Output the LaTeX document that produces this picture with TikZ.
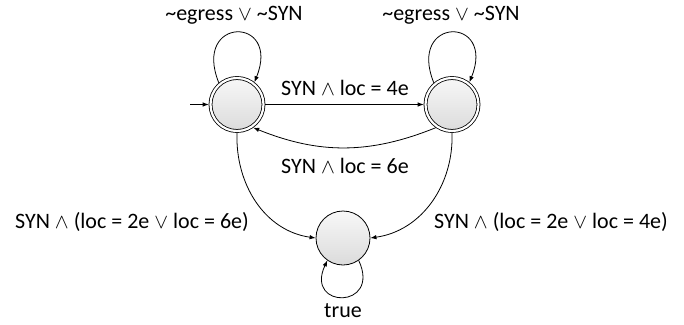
\documentclass[tikz,border=0pt]{standalone}
\usepackage{fontspec}
\setmainfont{Carlito}
\usetikzlibrary{arrows.meta}
\begin{document}
\begin{tikzpicture}[x=1pt,y=-1pt,
  every node/.style={font=\fontsize{22}{26}\selectfont},
  acc/.style={circle,draw,line width=0.8pt,double,double distance=2.2pt,minimum size=53pt,inner sep=0pt,outer sep=1.8pt,top color=gray!6,bottom color=gray!28},
  plain/.style={circle,draw,line width=0.8pt,minimum size=54pt,inner sep=0pt,top color=gray!6,bottom color=gray!28},
  tr/.style={draw,line width=0.8pt,-{Latex[length=6pt,width=4.5pt]}},
  lbl/.style={inner sep=0pt}]
\useasboundingbox (0,0) rectangle (684,324);
\node[acc] (L) at (237,104.5) {};
\node[acc] (R) at (452,104.5) {};
\node[plain] (B) at (343,238) {};
\coordinate (I) at (190,104.5);
\node[lbl] (t1) at (234,15) {\textasciitilde egress $\vee$ \textasciitilde SYN};
\node[lbl] (t2) at (451,15) {\textasciitilde egress $\vee$ \textasciitilde SYN};
\node[lbl] (t3) at (345,88) {SYN $\wedge$ loc = 4e};
\node[lbl] (t4) at (345,166) {SYN $\wedge$ loc = 6e};
\node[lbl] (t5) at (132,222) {SYN $\wedge$ (loc = 2e $\vee$ loc = 6e)};
\node[lbl] (t6) at (551,222) {SYN $\wedge$ (loc = 2e $\vee$ loc = 4e)};
\node[lbl] (t7) at (343,311) {true};
\draw[tr] (I) -- (L.west);
\draw[tr] (L.130) .. controls +(-112:72) and +(-68:72) .. (L.52);
\draw[tr] (R.130) .. controls +(-112:72) and +(-68:72) .. (R.52);
\draw[tr] (L) -- (R);
\draw[tr] (R.-125) to[bend left=22] (L.-55);
\draw[tr] (L.-90) to[out=-92,in=172] (B.west);
\draw[tr] (R.-90) to[out=-88,in=8] (B.east);
\draw[tr] (B.-55) .. controls +(65:54) and +(115:54) .. (B.-125);
\end{tikzpicture}
\end{document}
